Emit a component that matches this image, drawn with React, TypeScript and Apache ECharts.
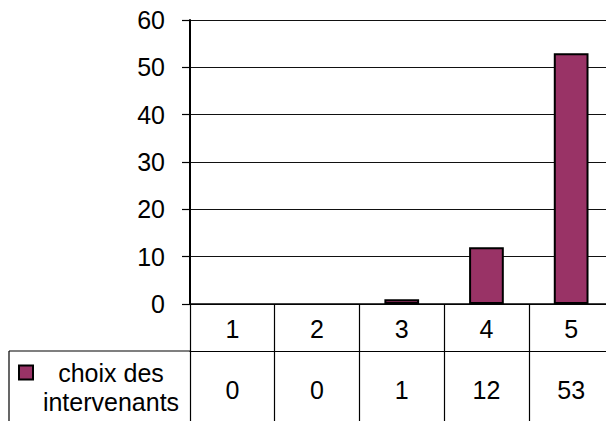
import React, { useEffect, useRef } from "react";
import * as echarts from "echarts";

const categories = ["1", "2", "3", "4", "5"];
const seriesName = "choix des intervenants";
const values = [0, 0, 1, 12, 53];
const yTicks = { min: 0, max: 60, interval: 10 };

const FONT = "'Liberation Sans', Arial, sans-serif";
const FS = 25;

export default function App() {
  const ref = useRef<HTMLDivElement>(null);
  useEffect(() => {
    if (!ref.current) return;
    const chart = echarts.init(ref.current, undefined, { renderer: "svg" });
    chart.setOption({
      animation: false,
      backgroundColor: "#fff",
      textStyle: { fontFamily: FONT },
      grid: { left: 190, top: 20, width: 423.5, height: 284, containLabel: false, outerBoundsMode: "none" },
      legend: {
        data: [seriesName],
        left: 18,
        top: 360,
        padding: 0,
        itemWidth: 14,
        itemHeight: 14,
        icon: "rect",
        formatter: () => "{a|choix des}\n{a|intervenants}",
        textStyle: {
          fontFamily: FONT,
          fontSize: FS,
          color: "#000",
          padding: [29, 0, 0, 0],
          rich: {
            a: { fontFamily: FONT, fontSize: FS, lineHeight: 29, width: 146, align: "center", color: "#000" },
          },
        },
      },
      xAxis: [
        {
          type: "category",
          data: categories,
          position: "bottom",
          axisLine: { show: true, lineStyle: { color: "#000", width: 1.5 } },
          axisTick: { show: true, length: 125, lineStyle: { color: "#000", width: 1.2 } },
          axisLabel: { color: "#000", fontSize: FS, fontFamily: FONT, margin: 12 },
          splitLine: { show: false },
        },
        {
          type: "category",
          data: values.map(String),
          position: "bottom",
          offset: 47,
          axisLine: { show: true, lineStyle: { color: "#000", width: 1.2 } },
          axisTick: { show: false },
          axisLabel: { color: "#000", fontSize: FS, fontFamily: FONT, margin: 26 },
          splitLine: { show: false },
        },
      ],
      yAxis: {
        type: "value",
        min: yTicks.min,
        max: yTicks.max,
        interval: yTicks.interval,
        axisLine: { show: true, lineStyle: { color: "#000", width: 2 } },
        axisTick: { show: true, length: 8, lineStyle: { color: "#000", width: 1.2 } },
        axisLabel: { color: "#000", fontSize: FS, fontFamily: FONT, margin: 25 },
        splitLine: { show: true, lineStyle: { color: "#111", width: 1.2 } },
      },
      series: [
        {
          name: seriesName,
          type: "bar",
          data: values.map((v) => (v === 0 ? { value: v, itemStyle: { borderWidth: 0 } } : v)),
          barWidth: "41%",
          itemStyle: { color: "#993366", borderColor: "#000", borderWidth: 2 },
        },
      ],
      graphic: [
        { type: "line", shape: { x1: 9, y1: 351, x2: 190, y2: 351 }, style: { stroke: "#000", lineWidth: 1.2 } },
        { type: "line", shape: { x1: 9, y1: 351, x2: 9, y2: 430 }, style: { stroke: "#000", lineWidth: 1.2 } },
      ],
    });
    return () => chart.dispose();
  }, []);
  return <div ref={ref} style={{ position: "fixed", left: 0, top: 0, width: 606, height: 421 }} />;
}
